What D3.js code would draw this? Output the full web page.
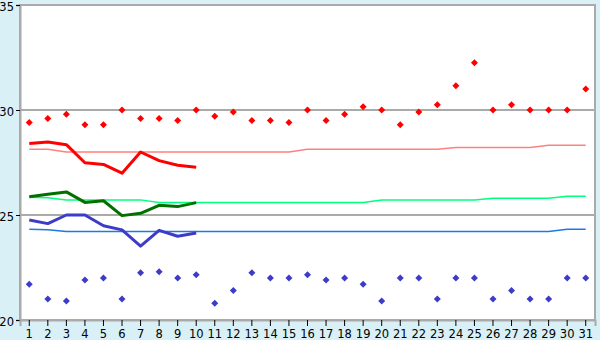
<!DOCTYPE html>
<html>
<head>
<meta charset="utf-8">
<script src="https://cdn.jsdelivr.net/npm/d3@7"></script>
<style>
  body { margin: 0; background: #d9f0f6; }
  svg { display: block; }
  text { font-family: "DejaVu Sans", sans-serif; font-size: 12px; fill: #000; }
</style>
</head>
<body>
<svg id="chart"></svg>
<script>
// days of the month
var days = d3.range(1, 32);

// daily observed values (markers)
var dailyMax = [29.4, 29.6, 29.8, 29.3, 29.3, 30.0, 29.6, 29.6, 29.5, 30.0,
                29.7, 29.9, 29.5, 29.5, 29.4, 30.0, 29.5, 29.8, 30.15, 30.0,
                29.3, 29.9, 30.25, 31.15, 32.25, 30.0, 30.25, 30.0, 30.0, 30.0, 31.0];
var dailyMin = [21.7, 21.0, 20.9, 21.9, 22.0, 21.0, 22.25, 22.3, 22.0, 22.15,
                20.8, 21.4, 22.25, 22.0, 22.0, 22.15, 21.9, 22.0, 21.7, 20.9,
                22.0, 22.0, 21.0, 22.0, 22.0, 21.0, 21.4, 21.0, 21.0, 22.0, 22.0];

// running averages (first 10 days only)
var avgMax  = [28.41, 28.48, 28.35, 27.49, 27.41, 26.99, 28.0, 27.59, 27.37, 27.27];
var avgMean = [25.87, 25.99, 26.1, 25.6, 25.68, 24.97, 25.08, 25.46, 25.4, 25.59];
var avgMin  = [24.76, 24.59, 25.0, 25.0, 24.49, 24.29, 23.52, 24.27, 23.99, 24.14];

// normals (thin lines)
var normMax = [28.13, 28.13, 28.0, 28.0, 28.0, 28.0, 28.0, 28.0, 28.0, 28.0,
               28.0, 28.0, 28.0, 28.0, 28.0, 28.13, 28.13, 28.13, 28.13, 28.13,
               28.13, 28.13, 28.13, 28.22, 28.22, 28.22, 28.22, 28.22, 28.32, 28.32, 28.32];
var normMean = [25.84, 25.82, 25.72, 25.72, 25.72, 25.72, 25.72, 25.6, 25.6, 25.6,
                25.6, 25.6, 25.6, 25.6, 25.6, 25.6, 25.6, 25.6, 25.6, 25.71,
                25.71, 25.71, 25.71, 25.71, 25.71, 25.8, 25.8, 25.8, 25.8, 25.89, 25.89];
var normMin = [24.32, 24.3, 24.22, 24.22, 24.22, 24.22, 24.22, 24.22, 24.22, 24.22,
               24.22, 24.22, 24.22, 24.22, 24.22, 24.22, 24.22, 24.22, 24.22, 24.22,
               24.22, 24.22, 24.22, 24.22, 24.22, 24.22, 24.22, 24.22, 24.22, 24.32, 24.32];

var yTicks = [20, 25, 30, 35];

var svgWidth = 600, svgHeight = 340;
var plotLeft = 20, plotRight = 595, plotTop = 5, plotBottom = 320;

var svg = d3.select("#chart")
    .attr("width", svgWidth)
    .attr("height", svgHeight);

// scales
var x = d3.scaleBand()
    .domain(days)
    .range([plotLeft, plotRight]);
var cx = function(d) { return x(d) + x.bandwidth() / 2; };

var y = d3.scaleLinear()
    .domain([20, 35])
    .range([plotBottom, plotTop]);

// plot area
svg.append("rect")
    .attr("x", plotLeft).attr("y", plotTop)
    .attr("width", plotRight - plotLeft).attr("height", plotBottom - plotTop)
    .attr("fill", "#fff")
    .attr("stroke", "#aaa")
    .attr("stroke-width", 2);

// grid lines
svg.append("g").selectAll("line")
    .data([25, 30])
    .enter().append("line")
    .attr("x1", plotLeft).attr("x2", plotRight)
    .attr("y1", d => y(d)).attr("y2", d => y(d))
    .attr("stroke", "#aaa")
    .attr("stroke-width", 2);

// y axis
var yAxis = svg.append("g")
    .attr("transform", "translate(" + plotLeft + ",0)")
    .call(d3.axisLeft(y).tickValues(yTicks).tickSize(4).tickPadding(2));
yAxis.select(".domain").attr("stroke", "#aaa").attr("stroke-width", 2);
yAxis.selectAll("text")
    .style("font-size", "11.5px")
    .attr("fill", "#000")
    .attr("dy", "0.45em");

// x axis
var xAxis = svg.append("g")
    .attr("transform", "translate(0," + plotBottom + ")")
    .call(d3.axisBottom(x).tickSize(6).tickPadding(4));
xAxis.select(".domain").attr("stroke", "#aaa").attr("stroke-width", 2);
xAxis.selectAll("text").style("font-size", "11.5px").attr("fill", "#000");

// lines
function drawLine(values, color, width) {
    var line = d3.line()
        .x((d, i) => cx(days[i]))
        .y(d => y(d));
    svg.append("path")
        .datum(values)
        .attr("d", line)
        .attr("fill", "none")
        .attr("stroke", color)
        .attr("stroke-width", width)
        .attr("stroke-linejoin", "round");
}

drawLine(normMax, "#ff8080", 1.5);
drawLine(normMean, "#00ff80", 1.5);
drawLine(normMin, "#1e78e6", 1.5);

drawLine(avgMax, "#ff0000", 3);
drawLine(avgMean, "#007000", 3);
drawLine(avgMin, "#3c3cc8", 3);

// markers (small diamond)
var marker = "M0,-3.5L3.5,0L0,3.5L-3.5,0Z";
function drawMarkers(values, color) {
    svg.append("g").selectAll("path")
        .data(values)
        .enter().append("path")
        .attr("d", marker)
        .attr("transform", (d, i) => "translate(" + cx(days[i]) + "," + y(d) + ")")
        .attr("fill", color);
}

drawMarkers(dailyMax, "#ff0000");
drawMarkers(dailyMin, "#3c3cc8");
</script>
</body>
</html>
